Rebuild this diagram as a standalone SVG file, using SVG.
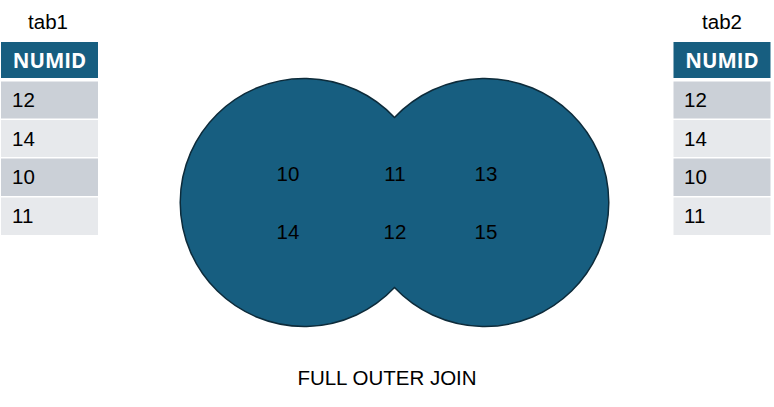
<svg xmlns="http://www.w3.org/2000/svg" width="774" height="407" viewBox="0 0 774 407">
<style>
text{font-family:"Liberation Sans",Arial,sans-serif;font-size:20.5px;fill:#000}
.hd{fill:#175E80}
.hdt{font-family:"Open Sans","Liberation Sans",sans-serif;font-weight:bold;fill:#fff;font-size:20.5px;text-anchor:middle}
.r1{fill:#CBD0D7}
.r2{fill:#E7E9EC}
.venn{fill:#175E80;stroke:#0D2B3A;stroke-width:1.5}
.c{text-anchor:middle}
</style>
<rect width="774" height="407" fill="#fff"/>
<g id="tab1">
<text x="48" y="29" class="c">tab1</text>
<rect class="hd" x="1" y="42" width="97" height="36"/>
<text x="49.5" y="67.5" class="hdt">NUMID</text>
<rect class="r1" x="1" y="81.5" width="97" height="37"/>
<rect class="r2" x="1" y="120" width="97" height="37"/>
<rect class="r1" x="1" y="158.5" width="97" height="37.5"/>
<rect class="r2" x="1" y="197.5" width="97" height="37.5"/>
<text x="12" y="107">12</text>
<text x="12" y="145.5">14</text>
<text x="12" y="184">10</text>
<text x="12" y="223">11</text>
</g>
<g id="tab2">
<text x="722" y="29" class="c">tab2</text>
<rect class="hd" x="673.5" y="42" width="97" height="36"/>
<text x="722" y="67.5" class="hdt">NUMID</text>
<rect class="r1" x="673.5" y="81.5" width="97" height="37"/>
<rect class="r2" x="673.5" y="120" width="97" height="37"/>
<rect class="r1" x="673.5" y="158.5" width="97" height="37.5"/>
<rect class="r2" x="673.5" y="197.5" width="97" height="37.5"/>
<text x="684" y="107">12</text>
<text x="684" y="145.5">14</text>
<text x="684" y="184">10</text>
<text x="684" y="223">11</text>
</g>
<g id="venn">
<path class="venn" d="M394.5,117.5 A124,124 0 1 0 394.5,287.5 A124,124 0 1 0 394.5,117.5 Z"/>
<text x="288" y="181" class="c">10</text>
<text x="395" y="181" class="c">11</text>
<text x="486" y="181" class="c">13</text>
<text x="288" y="239" class="c">14</text>
<text x="395" y="239" class="c">12</text>
<text x="486" y="239" class="c">15</text>
</g>
<g id="caption">
<text x="387" y="385" class="c">FULL OUTER JOIN</text>
</g>
</svg>
